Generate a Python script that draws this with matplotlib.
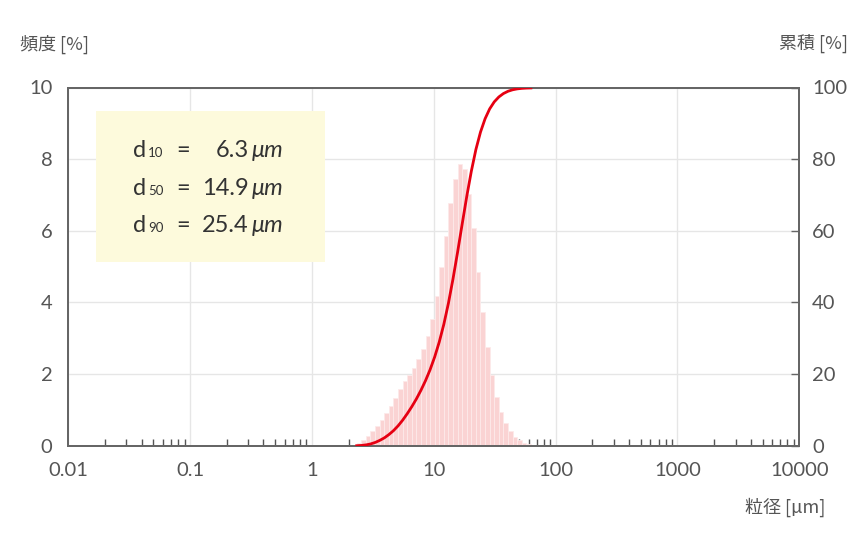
import numpy as np
import matplotlib
matplotlib.use("Agg")
import matplotlib.pyplot as plt
from matplotlib.patches import Rectangle
from matplotlib.ticker import LogLocator, NullFormatter, FixedLocator, FixedFormatter

# class boundaries of the particle size [um]
size_edges = [2.33, 2.54, 2.77, 3.02, 3.30, 3.59, 3.92, 4.27, 4.66, 5.08,
              5.54, 6.04, 6.59, 7.19, 7.84, 8.55, 9.32, 10.16, 11.08, 12.09,
              13.18, 14.37, 15.67, 17.09, 18.64, 20.32, 22.16, 24.17, 26.36, 28.74,
              31.34, 34.18, 37.27, 40.65, 44.32, 48.33, 52.71, 57.48, 62.68]

# frequency of each class [%]
freq = [0.07, 0.15, 0.26, 0.42, 0.56, 0.71, 0.91, 1.10, 1.33, 1.58,
        1.80, 1.98, 2.17, 2.42, 2.70, 3.05, 3.54, 4.18, 4.98, 5.85,
        6.78, 7.45, 7.86, 7.72, 7.04, 6.09, 4.85, 3.73, 2.75, 1.96,
        1.37, 0.95, 0.64, 0.41, 0.25, 0.15, 0.08, 0.04]

x_ticks = [0.01, 0.1, 1, 10, 100, 1000, 10000]
x_labels = ["0.01", "0.1", "1", "10", "100", "1000", "10000"]
y_ticks = [0, 2, 4, 6, 8, 10]
cum_ticks = [0, 20, 40, 60, 80, 100]

d_names = ["10", "50", "90"]
d_values = ["6.3", "14.9", "25.4"]

W, H = 868, 548
GRAY = "#555555"
SPINE = "#666666"
TXT = "#333333"
JP = ["Noto Sans CJK JP", "DejaVu Sans"]


def fx(px):
    return px / W


def fy(py):
    return 1 - py / H


def make_plot():
    plt.rcParams["font.family"] = ["Lato", "Noto Sans CJK JP", "DejaVu Sans"]

    fig = plt.figure(figsize=(W / 100, H / 100), dpi=100)
    ax = fig.add_axes([fx(68.3), fy(445.7), (799.3 - 68.3) / W, (445.7 - 87.5) / H])

    ax.set_xscale("log")
    ax.set_xlim(x_ticks[0], x_ticks[-1])
    ax.set_ylim(y_ticks[0], y_ticks[-1])

    lo = np.array(size_edges[:-1])
    hi = np.array(size_edges[1:])
    ax.bar(lo, freq, width=hi - lo, align="edge", color="#fad3d3",
           edgecolor="#fdeaea", linewidth=0.6, zorder=2)

    ax.set_axisbelow(True)
    ax.grid(True, which="major", color="#e6e6e6", linewidth=1)

    ax.xaxis.set_major_locator(FixedLocator(x_ticks))
    ax.xaxis.set_major_formatter(FixedFormatter(x_labels))
    ax.xaxis.set_minor_locator(LogLocator(base=10, subs=np.arange(2, 10), numticks=30))
    ax.xaxis.set_minor_formatter(NullFormatter())
    ax.set_yticks(y_ticks)

    ax.tick_params(axis="x", which="major", length=0, pad=11.5, labelsize=14.5, labelcolor=GRAY)
    ax.tick_params(axis="x", which="minor", direction="in", length=5, width=1, color=GRAY)
    ax.tick_params(axis="y", length=0, pad=11.5, labelsize=14.5, labelcolor=GRAY)

    # cumulative curve on the right axis
    ax2 = ax.twinx()
    ax2.set_ylim(cum_ticks[0], cum_ticks[-1])
    cum = np.concatenate([[0], np.cumsum(freq)])
    ax2.plot(size_edges, cum, color="#e60012", linewidth=2, zorder=5)
    ax2.set_yticks(cum_ticks)
    ax2.tick_params(axis="y", direction="in", length=6, width=1, color=SPINE,
                    pad=9.2, labelsize=14.5, labelcolor=GRAY)

    for a in (ax, ax2):
        for s in a.spines.values():
            s.set_color(SPINE)
            s.set_linewidth(1.4)

    # box with d10 / d50 / d90
    ax.add_patch(Rectangle((fx(96), fy(262)), (325 - 96) / W, (262 - 111) / H,
                           transform=fig.transFigure, facecolor="#fdfadc",
                           edgecolor="none", zorder=3, clip_on=False))
    base = [157.3, 195.0, 232.3]
    for i in range(3):
        y = fy(base[i])
        fig.text(fx(133.3), y, "d", fontsize=17, color=TXT, va="baseline")
        fig.text(fx(148), y, d_names[i], fontsize=9.5, color=TXT, va="baseline")
        fig.text(fx(183), y, "=", fontsize=17, color=TXT, va="baseline", ha="center")
        fig.text(fx(248.5), y, d_values[i], fontsize=17, color=TXT, va="baseline", ha="right")
        fig.text(fx(252), y, "\u03bcm", fontsize=17, color=TXT, va="baseline",
                 style="italic")

    fig.text(fx(20), fy(44), "頻度 [%]", fontsize=13, color=GRAY, va="center", family=JP)
    fig.text(fx(848), fy(43), "累積 [%]", fontsize=13, color=GRAY, va="center", ha="right", family=JP)
    fig.text(fx(825), fy(507), "粒径 [µm]", fontsize=13, color=GRAY, va="center", ha="right", family=JP)

    fig.savefig("out.png", dpi=100)


def main():
    make_plot()


if __name__ == "__main__":
    main()
